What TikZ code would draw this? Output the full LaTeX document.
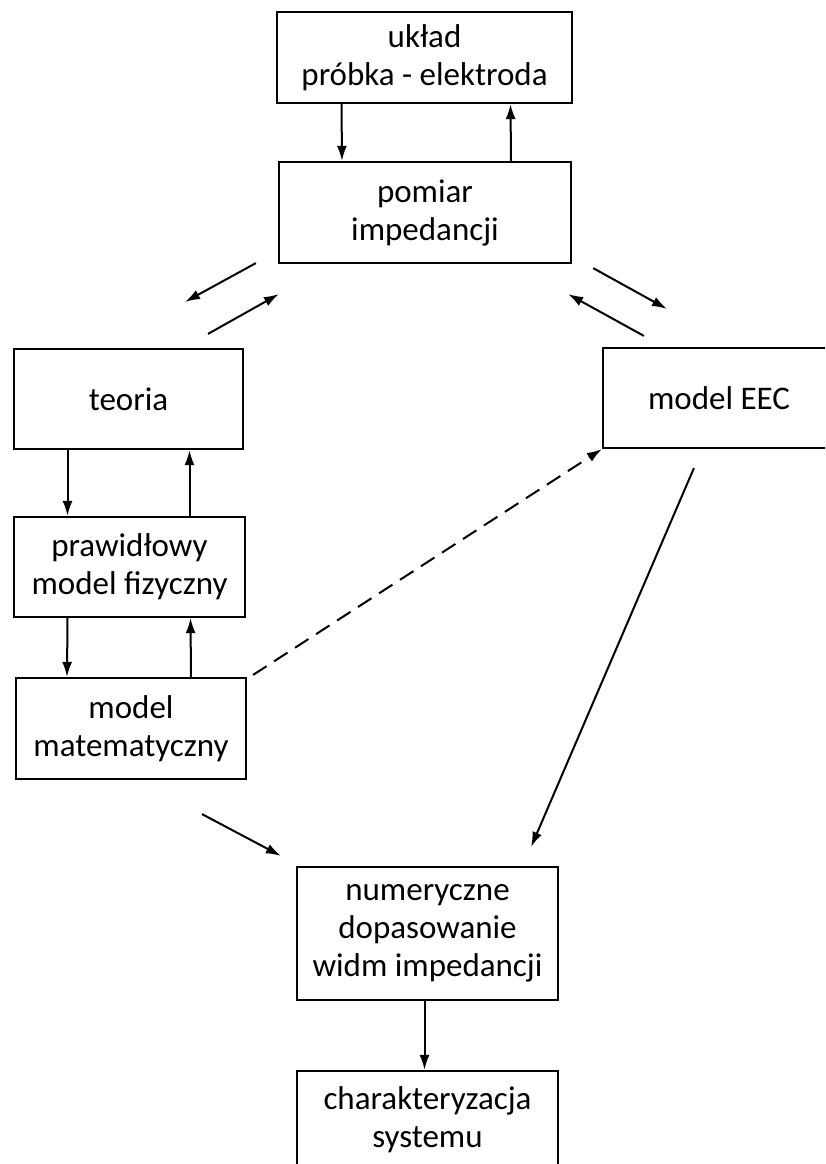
\documentclass[tikz,border=0pt]{standalone}
\usepackage{fontspec}
\setmainfont{Carlito}
\usetikzlibrary{arrows.meta}

\begin{document}
\begin{tikzpicture}[
  x=1pt, y=-1pt,
  box/.style={rectangle, draw, line width=2.2pt, align=center, inner sep=0pt,
              font=\fontsize{33pt}{38pt}\selectfont},
  arr/.style={line width=2pt, -{Latex[length=15pt,width=10pt]}},
  dash arr/.style={arr, dash pattern=on 16pt off 9pt}
]
\clip (0,0) rectangle (825,1164);

% --- top: sample and measurement ---
\node[box, minimum width=295pt, minimum height=91pt] (uklad) at (424.5,57.5) {układ\\próbka - elektroda};
\node[box, minimum width=292pt, minimum height=101pt] (pomiar) at (425,212.5) {pomiar\\impedancji};

% --- left column ---
\node[box, minimum width=229pt, minimum height=100pt] (teoria) at (128.5,399) {teoria};
\node[box, minimum width=231pt, minimum height=100pt] (fizyczny) at (129.5,567) {prawidłowy\\model fizyczny};
\node[box, minimum width=230pt, minimum height=101pt] (matematyczny) at (131,728.5) {model\\matematyczny};

% --- right: equivalent circuit ---
\node[box, minimum width=232pt, minimum height=100pt] (eec) at (719,398) {model EEC};

% --- bottom ---
\node[box, minimum width=261pt, minimum height=133pt] (dopasowanie) at (427.5,933.5) {numeryczne\\dopasowanie\\widm impedancji};
\node[box, minimum width=261pt, minimum height=98pt] (system) at (427.5,1120) {charakteryzacja\\systemu};

% --- vertical arrows ---
\draw[arr] ([xshift=-83pt]uklad.south) -- ([xshift=-83pt]pomiar.north);
\draw[arr] ([xshift=86pt]pomiar.north) -- ([xshift=86pt]uklad.south);
\draw[arr] ([xshift=-61pt]teoria.south) -- ([xshift=-62pt]fizyczny.north);
\draw[arr] ([xshift=60pt]fizyczny.north) -- ([xshift=61pt]teoria.south);
\draw[arr] ([xshift=-62pt]fizyczny.south) -- ([xshift=-64pt]matematyczny.north);
\draw[arr] ([xshift=60pt]matematyczny.north) -- ([xshift=61pt]fizyczny.south);
\draw[arr] ([xshift=-3pt]dopasowanie.south) -- ([xshift=-3pt]system.north);

% --- diagonal arrows ---
\draw[arr] ([shift={(-22,-1)}]pomiar.south west) -- ([shift={(56.5,-46)}]teoria.north);
\draw[arr] ([shift={(79.5,-14)}]teoria.north) -- ([shift={(1,30)}]pomiar.south west);
\draw[arr] ([shift={(21,4)}]pomiar.south east) -- ([shift={(65,-38)}]eec.north west);
\draw[arr] ([shift={(42,-11)}]eec.north west) -- ([shift={(-4,30)}]pomiar.south east);
\draw[dash arr] ([shift={(6,-2)}]matematyczny.north east) -- (eec.south west);
\draw[arr] ([shift={(92,19)}]eec.south west) -- ([shift={(-28,-19)}]dopasowanie.north east);
\draw[arr] ([shift={(71,34)}]matematyczny.south) -- ([shift={(-15,-10)}]dopasowanie.north west);

\end{tikzpicture}
\end{document}
